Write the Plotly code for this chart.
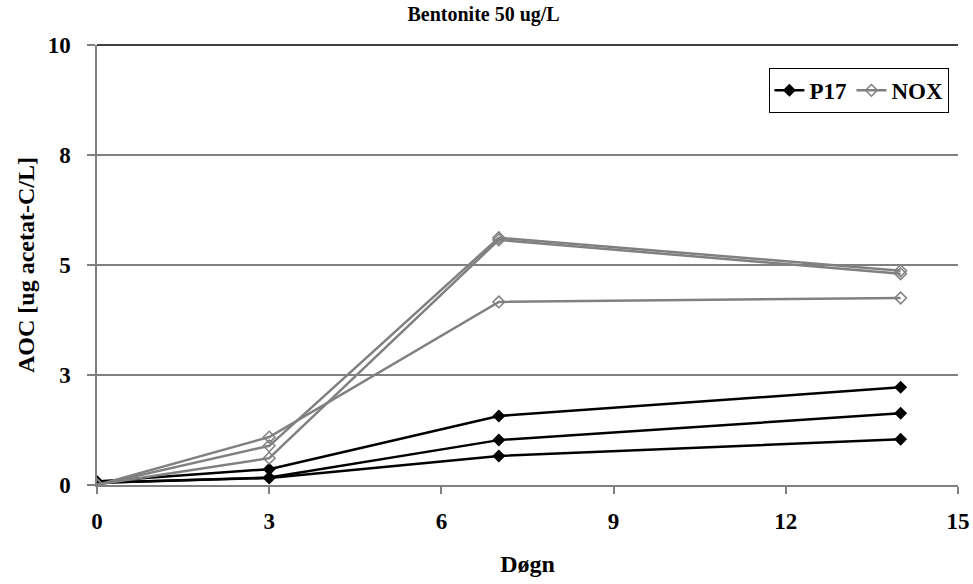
import plotly.graph_objects as go

days = [0, 3, 7, 14]
p17_a = [0.08, 0.36, 1.57, 2.22]
p17_b = [0.05, 0.17, 1.02, 1.63]
p17_c = [0.05, 0.16, 0.66, 1.04]
nox_a = [0.00, 1.09, 4.16, 4.25]
nox_b = [0.00, 0.89, 5.62, 4.87]
nox_c = [0.01, 0.61, 5.57, 4.80]

x_ticks = [0, 3, 6, 9, 12, 15]
y_ticks = [0, 2.5, 5, 7.5, 10]
y_tick_text = ["0", "3", "5", "8", "10"]

FONT = "Liberation Serif"
BLACK = "#000000"
GRAY = "#808080"

fig = go.Figure()

for i, ys in enumerate([p17_a, p17_b, p17_c]):
    fig.add_trace(go.Scatter(
        x=days, y=ys, mode="lines+markers", name="P17",
        legendgroup="P17", showlegend=(i == 0),
        line=dict(color=BLACK, width=2.5),
        marker=dict(symbol="diamond", size=10, color=BLACK),
    ))

for i, ys in enumerate([nox_a, nox_b, nox_c]):
    fig.add_trace(go.Scatter(
        x=days, y=ys, mode="lines+markers", name="NOX",
        legendgroup="NOX", showlegend=(i == 0),
        line=dict(color=GRAY, width=2.5),
        marker=dict(symbol="diamond-open", size=9, color=GRAY,
                    line=dict(color=GRAY, width=1.5)),
    ))

fig.update_layout(
    width=973, height=584,
    margin=dict(l=97, r=15, t=45, b=99, autoexpand=False),
    paper_bgcolor="white", plot_bgcolor="white",
    font=dict(family=FONT, size=23, color="black", weight="bold"),
    title=dict(text="Bentonite 50 ug/L", x=0.497, xanchor="center",
               y=0.976, yanchor="middle",
               font=dict(family=FONT, size=20, weight="bold")),
    legend=dict(orientation="h", x=0.99, xanchor="right", y=0.948, yanchor="top",
                bgcolor="white", bordercolor="black", borderwidth=1,
                font=dict(family=FONT, size=23, weight="bold"),
                itemwidth=30, tracegroupgap=0),
    showlegend=True,
)

fig.update_xaxes(
    range=[0, 15], tickvals=x_ticks, ticks="outside", ticklen=7,
    tickcolor=GRAY, tickwidth=1.5,
    showline=True, linecolor=GRAY, linewidth=1.5,
    showgrid=False, zeroline=False,
    ticklabelstandoff=8,
    tickfont=dict(family=FONT, size=23, weight="bold"),
    title=dict(text="Døgn", standoff=22, font=dict(family=FONT, size=24, weight="bold")),
)
fig.update_yaxes(
    range=[0, 10], tickvals=y_ticks, ticktext=y_tick_text,
    ticks="outside", ticklen=8, tickcolor=GRAY, tickwidth=1.5,
    showline=True, linecolor=GRAY, linewidth=1.5,
    showgrid=True, gridcolor=GRAY, gridwidth=1.5, zeroline=False,
    ticklabelstandoff=12,
    tickfont=dict(family=FONT, size=23, weight="bold"),
    title=dict(text="AOC [ug acetat-C/L]", standoff=6,
               font=dict(family=FONT, size=24, weight="bold")),
)

fig.add_shape(type="line", xref="paper", yref="paper", x0=0, x1=1, y0=1, y1=1,
              line=dict(color="black", width=1.5))

fig.write_html("out.html")
